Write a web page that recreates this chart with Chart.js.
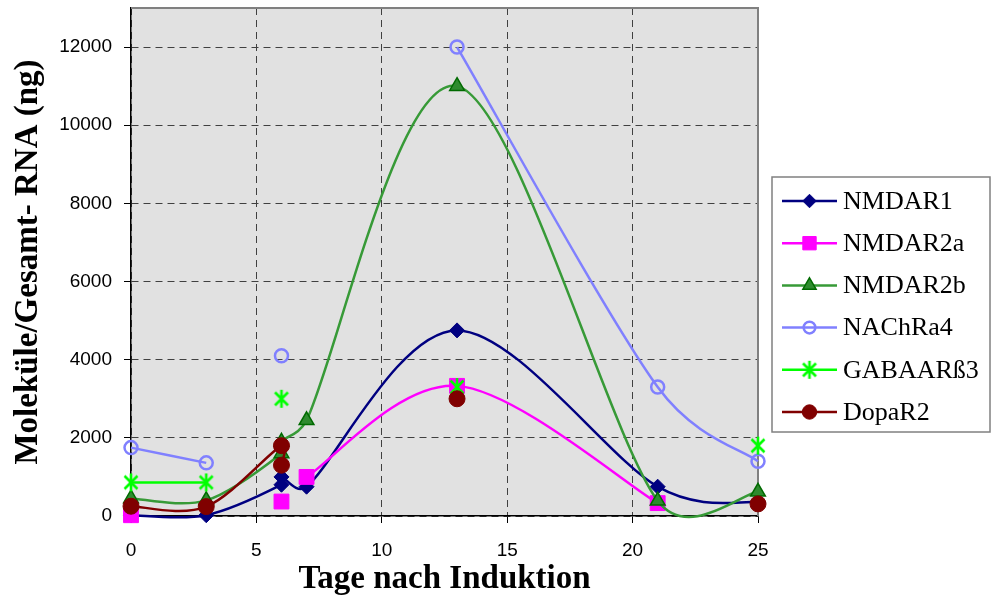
<!DOCTYPE html>
<html>
<head>
<meta charset="utf-8">
<script src="https://cdn.jsdelivr.net/npm/chart.js@4.4.1/dist/chart.umd.min.js"></script>
<style>
  html, body { margin: 0; padding: 0; background: #fff; }
  #wrap { width: 992px; height: 598px; position: relative; }
</style>
</head>
<body>
<div id="wrap"><canvas id="chart"></canvas></div>
<script>
// Days after induction (day 6 was measured twice)
const days = [0, 3, 6, 6, 7, 13, 21, 25];

// Molecules per ng total RNA; null = not measured (breaks the curve)
const nmdar1  = [20, 20, 800, 1000, 750, 4750, 750, 350];
const nmdar2a = [20, null, 370, null, 1000, 3330, 330, null];
const nmdar2b = [450, 400, 1600, 1900, 2450, 11000, 390, 620];
const nachra4 = [1750, 1360, null, 4100, null, 12000, 3300, 1400];
const gabaarb3 = [860, 860, null, 3000, null, 3300, null, 1800];
const dopar2  = [250, 240, 1800, 1300, null, 3000, null, 310];

const seriesNames = ['NMDAR1', 'NMDAR2a', 'NMDAR2b', 'NAChRa4', 'GABAARß3', 'DopaR2'];
const xTickValues = [0, 5, 10, 15, 20, 25];
const yTickValues = [0, 2000, 4000, 6000, 8000, 10000, 12000];

// Asterisk marker (X plus a vertical bar)
function makeAsterisk(color) {
  const c = document.createElement('canvas');
  c.width = 20; c.height = 20;
  const g = c.getContext('2d');
  g.strokeStyle = color; g.lineWidth = 2.6; g.lineCap = 'butt';
  g.beginPath();
  g.moveTo(3.5, 3.5); g.lineTo(16.5, 16.5);
  g.moveTo(16.5, 3.5); g.lineTo(3.5, 16.5);
  g.moveTo(10, 1); g.lineTo(10, 19);
  g.stroke();
  return c;
}
const asterisk = makeAsterisk('#00ff00');

const toPoints = vals => days.map((d, i) => ({ x: d, y: vals[i] }));

const datasets = [
  { label: seriesNames[0], data: toPoints(nmdar1), borderColor: '#000080',
    pointStyle: 'rectRot', pointRadius: 7.5, pointBackgroundColor: '#000080',
    pointBorderColor: '#000080', pointBorderWidth: 1, order: 5 },
  { label: seriesNames[1], data: toPoints(nmdar2a), borderColor: '#ff00ff',
    pointStyle: 'rect', pointRadius: 10.5, pointBackgroundColor: '#ff00ff',
    pointBorderColor: '#ff00ff', pointBorderWidth: 1, order: 4 },
  { label: seriesNames[2], data: toPoints(nmdar2b), borderColor: '#379a37',
    pointStyle: 'triangle', pointRadius: 8.5, pointBackgroundColor: '#2e8b2e',
    pointBorderColor: '#006a00', pointBorderWidth: 1.5, order: 3 },
  { label: seriesNames[3], data: toPoints(nachra4), borderColor: '#8080ff',
    pointStyle: 'circle', pointRadius: 6.5, pointBackgroundColor: 'rgba(0,0,0,0)',
    pointBorderColor: '#8080ff', pointBorderWidth: 2.5, order: 2 },
  { label: seriesNames[4], data: toPoints(gabaarb3), borderColor: '#00ff00',
    pointStyle: asterisk, pointRadius: 9, pointBackgroundColor: '#00ff00',
    pointBorderColor: '#00ff00', pointBorderWidth: 0, order: 1 },
  { label: seriesNames[5], data: toPoints(dopar2), borderColor: '#800000',
    pointStyle: 'circle', pointRadius: 8, pointBackgroundColor: '#800000',
    pointBorderColor: '#800000', pointBorderWidth: 1, order: 0 }
].map(ds => Object.assign({
  borderWidth: 2.5, tension: 0.35, spanGaps: false, fill: false,
  clip: { left: 14, top: 14, right: 14, bottom: 10 },
  pointHoverRadius: ds.pointRadius
}, ds));

// Catmull-Rom style smoothing (tangent = (next - prev) / 6) for each unbroken run;
// each handle is limited to half of the segment it belongs to
const smoothCurves = {
  id: 'smoothCurves',
  beforeDatasetsDraw(chart) {
    const limit = 0.5;
    chart.getSortedVisibleDatasetMetas().forEach(meta => {
      const pts = meta.data;
      const n = pts.length;
      for (let i = 0; i < n; i++) {
        const p = pts[i];
        if (p.skip) continue;
        const a = (i > 0 && !pts[i - 1].skip) ? pts[i - 1] : p;
        const b = (i < n - 1 && !pts[i + 1].skip) ? pts[i + 1] : p;
        const dx = (b.x - a.x) / 6, dy = (b.y - a.y) / 6;
        const len = Math.hypot(dx, dy);
        const segPrev = Math.hypot(p.x - a.x, p.y - a.y);
        const segNext = Math.hypot(b.x - p.x, b.y - p.y);
        const sPrev = len > 0 ? Math.min(1, limit * segPrev / len) : 0;
        const sNext = len > 0 ? Math.min(1, limit * segNext / len) : 0;
        p.cp1x = p.x - dx * sPrev; p.cp1y = p.y - dy * sPrev;
        p.cp2x = p.x + dx * sNext; p.cp2y = p.y + dy * sNext;
      }
      if (meta.dataset) {
        meta.dataset._pointsUpdated = true;
        meta.dataset._path = undefined;
      }
    });
  }
};

// Grey plot area plus the grey top/right frame
const plotFrame = {
  id: 'plotFrame',
  beforeDraw(chart) {
    const { ctx, chartArea: a } = chart;
    ctx.save();
    ctx.fillStyle = '#e1e1e1';
    ctx.fillRect(a.left, a.top, a.right - a.left, a.bottom - a.top);
    ctx.restore();
  },
  beforeDatasetsDraw(chart) {
    const { ctx, chartArea: a } = chart;
    ctx.save();
    ctx.strokeStyle = '#808080';
    ctx.lineWidth = 2;
    ctx.beginPath();
    ctx.moveTo(a.left, a.top);
    ctx.lineTo(a.right, a.top);
    ctx.lineTo(a.right, a.bottom);
    ctx.stroke();
    ctx.restore();
  }
};

// Boxed legend on the right: line sample, marker and name
const boxLegend = {
  id: 'boxLegend',
  afterDraw(chart) {
    const { ctx } = chart;
    const box = { x: 772, y: 177, w: 218, h: 255 };
    ctx.save();
    ctx.fillStyle = '#ffffff';
    ctx.fillRect(box.x, box.y, box.w, box.h);
    ctx.strokeStyle = '#808080';
    ctx.lineWidth = 1.5;
    ctx.strokeRect(box.x, box.y, box.w, box.h);
    chart.data.datasets.forEach((ds, i) => {
      const y = 201 + i * 42.2;
      ctx.strokeStyle = ds.borderColor;
      ctx.lineWidth = ds.borderWidth;
      ctx.beginPath();
      ctx.moveTo(782, y);
      ctx.lineTo(837, y);
      ctx.stroke();
      ctx.fillStyle = ds.pointBackgroundColor;
      ctx.strokeStyle = ds.pointBorderColor;
      ctx.lineWidth = ds.pointBorderWidth;
      Chart.helpers.drawPoint(ctx, {
        pointStyle: ds.pointStyle, radius: ds.pointRadius * 0.9,
        rotation: 0, borderWidth: ds.pointBorderWidth
      }, 809.5, y);
      ctx.fillStyle = '#000';
      ctx.font = '26px "Liberation Serif", serif';
      ctx.textAlign = 'left';
      ctx.textBaseline = 'middle';
      ctx.fillText(ds.label, 843, y + 1);
    });
    ctx.restore();
  }
};

const tickFont = { family: '"Liberation Sans", Arial, sans-serif', size: 19 };
const titleFont = { family: '"Liberation Serif", serif', size: 33, weight: 'bold' };
const gridStyle = { color: '#404040', lineWidth: 1, tickLength: 7, tickColor: '#000', drawTicks: true };
const borderStyle = { display: true, color: '#000', width: 1.5, dash: [7, 5] };

new Chart(document.getElementById('chart'), {
  type: 'line',
  data: { datasets },
  plugins: [plotFrame, smoothCurves, boxLegend],
  options: {
    responsive: true,
    maintainAspectRatio: false,
    animation: false,
    devicePixelRatio: 1,
    layout: { autoPadding: false, padding: { top: 8, right: 234, bottom: 0, left: 0 } },
    plugins: { legend: { display: false }, tooltip: { enabled: false } },
    scales: {
      x: {
        type: 'linear', min: 0, max: 25,
        afterBuildTicks: axis => { axis.ticks = xTickValues.map(v => ({ value: v })); },
        afterFit: s => { s.height = 82; s.paddingLeft = 0; s.paddingRight = 0; },
        ticks: { font: tickFont, color: '#000', padding: 16, maxRotation: 0,
                 callback: v => String(v) },
        grid: gridStyle,
        border: borderStyle,
        title: { display: true, text: 'Tage nach Induktion', font: titleFont, color: '#000',
                 padding: { top: 0, bottom: -1 } }
      },
      y: {
        type: 'linear', min: 0, max: 13000,
        afterBuildTicks: axis => { axis.ticks = yTickValues.map(v => ({ value: v })); },
        afterFit: s => { s.width = 131; s.paddingTop = 0; s.paddingBottom = 0; },
        ticks: { font: tickFont, color: '#000', padding: 12,
                 callback: v => String(v) },
        grid: gridStyle,
        border: borderStyle,
        title: { display: true, text: 'Moleküle/Gesamt- RNA (ng)', font: titleFont, color: '#000',
                 padding: { top: 9, bottom: 0 } }
      }
    }
  }
});
</script>
</body>
</html>
